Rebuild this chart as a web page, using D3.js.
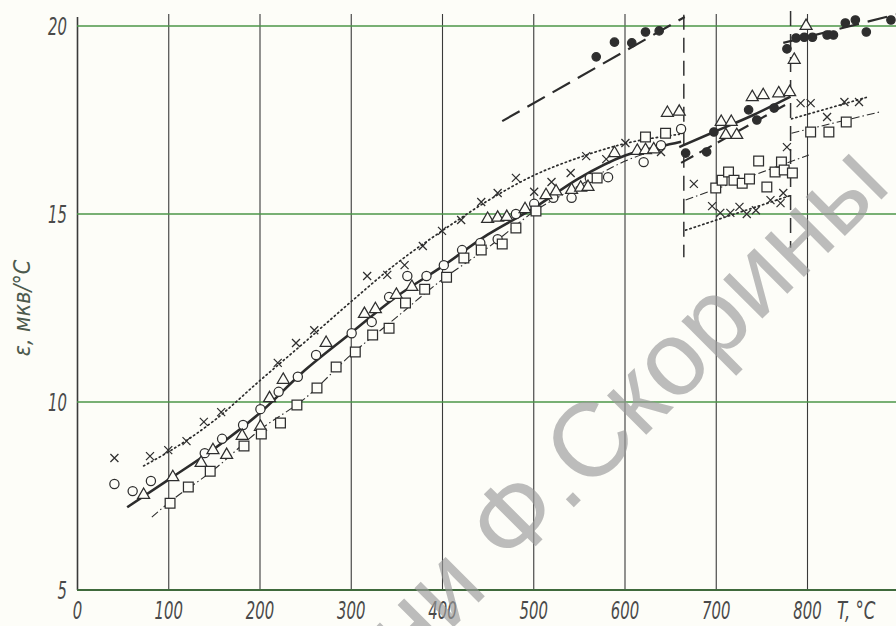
<!DOCTYPE html>
<html>
<head>
    <meta charset="utf-8">
    <style>
        body{
            margin: 0;
            background-color: #fdfdf8;
        }
        svg{
            display: block;
        }
        .tick-lbl text{
            font-family: "DejaVu Sans Condensed", "DejaVu Sans", sans-serif;
            font-style: oblique;
            font-size: 25px;
            fill: #4a4a4a;
        }
        .pts path, .pts circle{
            stroke: #2e2e2e;
            stroke-width: 1.25px;
        }
    </style>
</head>
<body>
    <svg class="vis"></svg>

    <script src="https://cdnjs.cloudflare.com/ajax/libs/d3/7.8.5/d3.min.js"></script>
    <script>

        var width = 896;
        var height = 626;

        // tick values
        var xTicks = [0, 100, 200, 300, 400, 500, 600, 700, 800];
        var yTicks = [5, 10, 15, 20];

        // measured points, [T, eps]
        var circlePts = [[41,7.82],[61,7.63],[81,7.9],[140,8.64],[159,9.02],[182,9.39],[201,9.81],[221,10.27],
            [242,10.67],[262,11.25],[301,11.83],[323,12.13],[342,12.79],[362,13.35],[383,13.35],[402,13.64],
            [422,14.04],[442,14.23],[461,14.33],[481,15.0],[501,15.27],[522,15.43],[542,15.43],[562,15.96],
            [582,15.98],[621,16.38],[640,16.83],[662,17.26]];

        var trianglePts = [[73,7.53],[105,8.0],[136,8.38],[149,8.72],[164,8.59],[181,9.1],[201,9.34],[211,10.1],
            [226,10.59],[273,11.57],[315,12.34],[327,12.47],[350,12.85],[367,13.06],[450,14.87],[461,14.9],
            [471,14.92],[491,15.13],[514,15.5],[525,15.6],[542,15.64],[552,15.7],[560,15.72],[589,16.62],
            [614,16.68],[623,16.7],[632,16.72],[647,17.69],[660,17.72],[706,17.45],[717,17.45],[711,17.1],
            [723,17.1],[740,18.11],[752,18.16],[769,18.21],[781,18.24],[786,19.1],[799,20.0]];

        var squarePts = [[102,7.31],[122,7.74],[146,8.16],[183,8.83],[202,9.15],[223,9.44],[241,9.92],[263,10.37],
            [284,10.93],[305,11.33],[324,11.78],[342,11.96],[360,12.63],[381,13.0],[405,13.32],[424,13.83],
            [443,14.04],[466,14.2],[481,14.63],[503,15.08],[570,15.96],[623,17.05],[645,17.15],
            [700,15.69],[707,15.9],[714,16.12],[720,15.9],[729,15.82],[737,15.93],[747,16.41],[756,15.72],
            [765,16.12],[772,16.38],[775,16.17],[784,16.09],[804,17.18],[824,17.18],[843,17.45]];

        var crossPts = [[41,8.51],[80,8.56],[100,8.72],[120,8.96],[139,9.47],[158,9.73],[220,11.04],[240,11.57],
            [260,11.91],[318,13.35],[340,13.38],[359,13.64],[379,14.15],[400,14.55],[421,14.84],[443,15.32],
            [461,15.56],[481,15.96],[501,15.59],[520,15.85],[541,16.09],[558,16.54],[580,16.46],[601,16.89],
            [640,16.65],[676,15.8],[696,15.21],[705,15.03],[716,15.03],[726,15.19],[734,15.0],[744,15.1],
            [760,15.37],[771,15.29],[774,15.56],[778,16.78],[793,17.95],[804,17.95],[822,17.58],[841,17.98],
            [857,17.98]];

        var dotPts = [[569,19.18],[589,19.57],[608,19.55],[623,19.84],[638,19.87],
            [667,16.62],[690,16.65],[698,17.18],[736,17.77],[745,17.5],[764,17.82],
            [778,19.39],[788,19.68],[797,19.7],[806,19.7],[822,19.76],[829,19.76],[842,20.08],[853,20.16],
            [865,19.84],[892,20.16]];

        // fitted curves
        var solidMain = [[55,7.2],[100,7.93],[150,8.75],[200,9.7],[250,10.85],[300,11.83],[350,12.8],[400,13.6],
            [450,14.45],[500,15.15],[550,15.95],[600,16.55],[640,16.8],[662,16.92]];
        var dottedMain = [[73,8.3],[100,8.67],[150,9.5],[200,10.56],[250,11.6],[300,12.66],[350,13.68],[400,14.55],
            [450,15.35],[500,16.02],[550,16.5],[600,16.87],[660,17.12]];
        var dashDotMain = [[82,6.94],[100,7.31],[150,8.2],[200,9.25],[250,10.1],[300,11.25],[350,12.25],[400,13.25],
            [450,14.1],[500,15.05],[550,15.75],[600,16.4],[640,16.75]];
        var dashedTop = [[466,17.47],[666,20.24]];

        var solidSeg = [[660,16.78],[698,17.18],[740,17.62],[782,18.12]];
        var dashedSeg = [[662,16.36],[782,17.98]];
        var dashDotSeg = [[667,15.37],[802,16.57]];
        var dottedSeg = [[667,14.57],[783,15.5]];

        var dottedAfter = [[783,17.53],[865,18.1]];
        var dashDotAfter = [[783,17.15],[879,17.71]];
        var dashedAfter = [[774,19.55],[900,20.32]];

        // phase boundaries
        var bounds = [[665, 20.3, 13.85], [782, 20.4, 14.1]];

        var vis = d3.select("svg.vis")
            .attr("width", width)
            .attr("height", height);

        var x = d3.scaleLinear().domain([0, 900]).range([77, 77 + 9 * 91.25]);
        var y = d3.scaleLinear().domain([5, 20]).range([590, 26]);

        // vertical grid + x labels
        var xAxis = vis.append("g")
            .attr("class", "tick-lbl")
            .attr("transform", "translate(0,590)")
            .call(d3.axisBottom(x).tickValues(xTicks).tickSize(-(590 - 14)).tickPadding(11).tickFormat(d3.format("d")));
        xAxis.select(".domain").remove();
        xAxis.selectAll(".tick line")
            .attr("stroke", "#3a3a3a")
            .attr("stroke-width", function(d){ return d === 0 ? 1.6 : 1.1; })
            .attr("y2", function(d){ return d === 0 ? -(590 - 17) : -(590 - 14); });
        xAxis.selectAll(".tick text")
            .attr("transform", "scale(0.66,1)");

        xAxis.append("text")
            .attr("transform", "translate(837,0) scale(0.74,1)")
            .attr("y", 29)
            .attr("text-anchor", "start")
            .text("T, °C");

        // horizontal grid (green)
        vis.append("g")
            .selectAll("line")
            .data(yTicks)
            .enter()
            .append("line")
            .attr("x1", x(0))
            .attr("x2", width)
            .attr("y1", function(d){ return y(d); })
            .attr("y2", function(d){ return y(d); })
            .attr("stroke", function(d){ return d === 5 ? "#3f6a3c" : "#4b9648"; })
            .attr("stroke-width", function(d){ return d === 5 ? 1.8 : 1.3; });

        var yAxis = vis.append("g")
            .attr("class", "tick-lbl")
            .attr("transform", "translate(" + (x(0) - 10) + ",0)")
            .call(d3.axisLeft(y).tickValues(yTicks).tickSize(0).tickPadding(0));
        yAxis.select(".domain").remove();
        yAxis.selectAll(".tick text")
            .attr("transform", "scale(0.66,1)");

        vis.append("text")
            .attr("transform", "translate(30,308) rotate(-90)")
            .attr("text-anchor", "middle")
            .attr("font-family", "DejaVu Sans Condensed, DejaVu Sans, sans-serif")
            .attr("font-style", "oblique")
            .attr("font-size", "23px")
            .attr("fill", "#4d5a4d")
            .text("ε, мкв/°С");

        // boundaries
        vis.append("g")
            .selectAll("line")
            .data(bounds)
            .enter()
            .append("line")
            .attr("x1", function(d){ return x(d[0]); })
            .attr("x2", function(d){ return x(d[0]); })
            .attr("y1", function(d){ return y(d[1]); })
            .attr("y2", function(d){ return y(d[2]); })
            .attr("stroke", "#333")
            .attr("stroke-width", 1.5)
            .attr("stroke-dasharray", "15,8");

        var line = d3.line()
            .x(function(d){ return x(d[0]); })
            .y(function(d){ return y(d[1]); })
            .curve(d3.curveMonotoneX);

        var plot = vis.append("g").attr("class", "plotArea");

        function drawCurve(data, w, dash){
            plot.append("path")
                .datum(data)
                .attr("d", line)
                .attr("fill", "none")
                .attr("stroke", "#2c2c2c")
                .attr("stroke-width", w)
                .attr("stroke-linecap", dash === "1.3,3.2" ? "round" : "butt")
                .attr("stroke-dasharray", dash);
        }

        drawCurve(solidMain, 2.6, null);
        drawCurve(solidSeg, 2.6, null);
        drawCurve(dottedMain, 1.7, "1.3,3.2");
        drawCurve(dottedSeg, 1.7, "1.3,3.2");
        drawCurve(dottedAfter, 1.7, "1.3,3.2");
        drawCurve(dashDotMain, 1.1, "8,3,1.5,3");
        drawCurve(dashDotSeg, 1.1, "8,3,1.5,3");
        drawCurve(dashDotAfter, 1.1, "8,3,1.5,3");
        drawCurve(dashedTop, 2.2, "20,9");
        drawCurve(dashedSeg, 2.2, "14,7");
        drawCurve(dashedAfter, 2.2, "20,9");

        var pts = vis.append("g").attr("class", "pts");

        pts.selectAll("circle.o")
            .data(circlePts)
            .enter()
            .append("circle")
            .attr("class", "o")
            .attr("cx", function(d){ return x(d[0]); })
            .attr("cy", function(d){ return y(d[1]); })
            .attr("r", 4.6)
            .attr("fill", "#fdfdf8");

        pts.selectAll("path.tri")
            .data(trianglePts)
            .enter()
            .append("path")
            .attr("class", "tri")
            .attr("transform", function(d){ return "translate(" + x(d[0]) + "," + y(d[1]) + ")"; })
            .attr("d", d3.symbol().type(d3.symbolTriangle).size(62))
            .attr("fill", "#fdfdf8");

        pts.selectAll("path.sq")
            .data(squarePts)
            .enter()
            .append("path")
            .attr("class", "sq")
            .attr("transform", function(d){ return "translate(" + x(d[0]) + "," + y(d[1]) + ")"; })
            .attr("d", d3.symbol().type(d3.symbolSquare).size(95))
            .attr("fill", "#fdfdf8");

        pts.selectAll("path.x")
            .data(crossPts)
            .enter()
            .append("path")
            .attr("class", "x")
            .attr("transform", function(d){ return "translate(" + x(d[0]) + "," + y(d[1]) + ")"; })
            .attr("d", "M-4,-4L4,4M-4,4L4,-4")
            .attr("fill", "none");

        pts.selectAll("circle.dot")
            .data(dotPts)
            .enter()
            .append("circle")
            .attr("class", "dot")
            .attr("cx", function(d){ return x(d[0]); })
            .attr("cy", function(d){ return y(d[1]); })
            .attr("r", 4.2)
            .attr("fill", "#2e2e2e");

        // watermark
        vis.append("text")
            .attr("transform", "translate(893,188) rotate(-45)")
            .attr("text-anchor", "end")
            .attr("font-family", "Liberation Sans, sans-serif")
            .attr("font-size", "105px")
            .attr("fill", "#9a9a9a")
            .attr("fill-opacity", 0.65)
            .text("имени Ф.Скорины");

    </script>
</body>
</html>
